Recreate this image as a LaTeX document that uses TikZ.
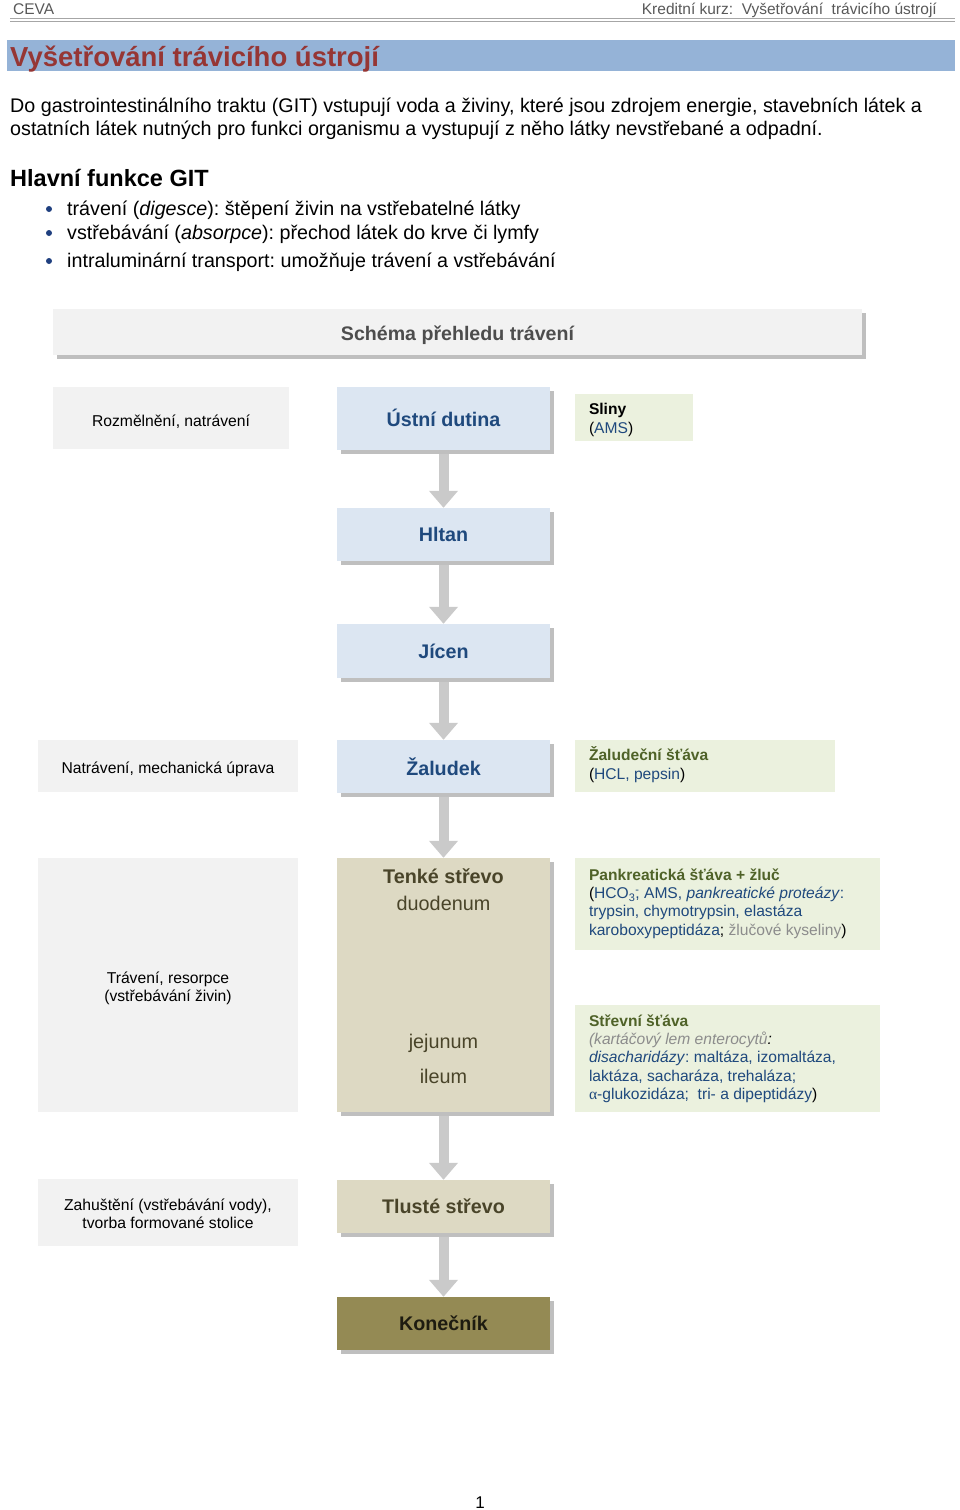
\documentclass[tikz,border=0pt]{standalone}
\usepackage{fontspec}
\setmainfont{Liberation Sans}
\newfontfamily\greekfont{Liberation Serif}
\usetikzlibrary{arrows.meta,shadows}
\newcommand\myfs[2]{\fontsize{#1}{#2}\selectfont}
\definecolor{headgray}{HTML}{595959}
\definecolor{headline}{HTML}{A6A6A6}
\definecolor{titleband}{HTML}{95B3D7}
\definecolor{titlered}{HTML}{963634}
\definecolor{bulletblue}{HTML}{1F3F7F}
\definecolor{boxgray}{HTML}{F2F2F2}
\definecolor{schemagray}{HTML}{4D4D4D}
\definecolor{bluebox}{HTML}{DCE6F2}
\definecolor{bluetext}{HTML}{1F497D}
\definecolor{greenbox}{HTML}{EBF1DE}
\definecolor{olivetext}{HTML}{4F6228}
\definecolor{tanbox}{HTML}{DDD9C3}
\definecolor{tantext}{HTML}{494429}
\definecolor{darkolive}{HTML}{948A54}
\definecolor{darktext}{HTML}{1D1B10}
\definecolor{arrowgray}{HTML}{CACACA}
\definecolor{shadowgray}{HTML}{BFBFBF}
\definecolor{lightgraytext}{HTML}{8C8C8C}
\begin{document}
\frenchspacing
\begin{tikzpicture}[x=1pt,y=-1pt,
  shad/.style={drop shadow={shadow xshift=4pt,shadow yshift=-4pt,fill=shadowgray,opacity=1}},
  leftbox/.style={fill=boxgray,inner sep=0},
  lefttext/.style={inner sep=0,align=center,font=\myfs{15.7}{18},text=black},
  midbox/.style={fill=bluebox,minimum width=213,minimum height=53,inner sep=0,font=\bfseries\myfs{19.7}{23},text=bluetext,shad},
  tanmid/.style={midbox,fill=tanbox,text=tantext},
  tantxt/.style={inner sep=0,font=\myfs{19.8}{23},text=tantext},
  rightbox/.style={fill=greenbox,inner sep=0},
  righttext/.style={inner sep=0,anchor=west,align=left,font=\myfs{15.6}{18.3},text=black},
  flow/.style={draw=arrowgray,line width=10pt,shorten <=4pt,-{Triangle[width=28pt,length=17pt]}},
  bodytext/.style={anchor=base west,inner sep=0,font=\myfs{19.7}{23},text=black},
  bul/.style={circle,fill=bulletblue,inner sep=0,minimum size=6}
]
\useasboundingbox[fill=white] (0,0) rectangle (960,1510);
% header
\node[anchor=base west,inner sep=0,font=\myfs{15.5}{18},text=headgray] (ceva) at (13,14) {CEVA};
\node[anchor=base east,inner sep=0,font=\myfs{15.5}{18},text=headgray] (kurz) at (937,14) {Kreditní kurz:\ \ Vyšetřování\ \ trávicího ústrojí};
\draw[headline,line width=1pt] (10,18.5) -- (955,18.5);
\draw[headline,line width=1pt] (10,21.5) -- (955,21.5);
% title band
\node[fill=titleband,minimum width=948,minimum height=31,inner sep=0,anchor=north west] (band) at (7,40) {};
\node[anchor=base west,inner sep=0,font=\bfseries\myfs{27.5}{30},text=titlered] (title) at (10,66) {Vyšetřování trávicího ústrojí};
% paragraph
\node[bodytext] (p1) at (10,112) {Do gastrointestinálního traktu (GIT) vstupují voda a živiny, které jsou zdrojem energie, stavebních látek a};
\node[bodytext] (p2) at (10,135) {ostatních látek nutných pro funkci organismu a vystupují z něho látky nevstřebané a odpadní.};
\node[anchor=base west,inner sep=0,font=\bfseries\myfs{23.5}{26}] (hlavni) at (10,186) {Hlavní funkce GIT};
\node[bul] (b1) at (49,209) {};
\node[bodytext] (t1) at (67,215) {trávení (\textit{digesce}): štěpení živin na vstřebatelné látky};
\node[bul] (b2) at (49,233) {};
\node[bodytext] (t2) at (67,239) {vstřebávání (\textit{absorpce}): přechod látek do krve či lymfy};
\node[bul] (b3) at (49,261) {};
\node[bodytext] (t3) at (67,267) {intraluminární transport: umožňuje trávení a vstřebávání};
% schema title
\node[fill=boxgray,minimum width=809,minimum height=46,inner sep=0,shad] (schema) at (457.5,332) {};
\node[inner sep=0,font=\bfseries\myfs{19.6}{22},text=schemagray] (schematxt) at ([yshift=-3pt]schema.center) {Schéma přehledu trávení};
% row 1
\node[leftbox,minimum width=236,minimum height=62] (rozm) at (171,418) {};
\node[lefttext] (rozmtxt) at ([yshift=-3.5pt]rozm.center) {Rozmělnění, natrávení};
\node[midbox,minimum height=63] (ustni) at (443.5,418.5) {};
\node[inner sep=0,font=\bfseries\myfs{19.7}{23},text=bluetext] (ustnitxt) at ([yshift=0.5pt]ustni.center) {Ústní dutina};
\node[rightbox,minimum width=118,minimum height=47] (sliny) at (634,417.5) {};
\node[righttext] (slinytxt) at ([xshift=14pt,yshift=-2.5pt]sliny.west) {\textbf{Sliny}\\(\textcolor{bluetext}{AMS})};
% chain
\node[midbox] (hltan) at (443.5,534.5) {Hltan};
\node[midbox,minimum height=54] (jicen) at (443.5,651) {Jícen};
\node[leftbox,minimum width=260,minimum height=52] (natr) at (168,766) {};
\node[lefttext] (natrtxt) at ([yshift=-3pt]natr.center) {Natrávení, mechanická úprava};
\node[midbox] (zaludek) at (443.5,766.5) {Žaludek};
\node[rightbox,minimum width=260,minimum height=52] (zst) at (705,766) {};
\node[righttext] (zsttxt) at ([xshift=14pt,yshift=1.5pt]zst.west) {\textcolor{olivetext}{\textbf{Žaludeční šťáva}}\\(\textcolor{bluetext}{HCL, pepsin})};
% small intestine
\node[leftbox,minimum width=260,minimum height=254] (trav) at (168,985) {};
\node[lefttext] (travtxt) at ([yshift=-3pt]trav.center) {Trávení, resorpce\\(vstřebávání živin)};
\node[tanmid,minimum height=254] (tenke) at (443.5,985) {};
\node[tantxt,font=\bfseries\myfs{19.8}{23}] (tenkel) at (443.5,876) {Tenké střevo};
\node[tantxt] (duod) at (443.5,903) {duodenum};
\node[tantxt] (jej) at (443.5,1043) {jejunum};
\node[tantxt] (ile) at (443.5,1076) {ileum};
\node[rightbox,minimum width=305,minimum height=92] (pank) at (727.5,904) {};
\node[righttext] (panktxt) at ([xshift=14pt,yshift=0.5pt]pank.west) {\textcolor{olivetext}{\textbf{Pankreatická šťáva + žluč}}\\
(\textcolor{bluetext}{HCO\textsubscript{3}\rlap{\textsuperscript{-}}, AMS, \textit{pankreatické proteázy}:}\\
\textcolor{bluetext}{trypsin, chymotrypsin, elastáza}\\
\textcolor{bluetext}{karoboxypeptidáza}; \textcolor{lightgraytext}{žlučové kyseliny})};
\node[rightbox,minimum width=305,minimum height=107] (strev) at (727.5,1058.5) {};
\node[righttext] (strevtxt) at ([xshift=14pt]strev.west) {\textcolor{olivetext}{\textbf{Střevní šťáva}}\\
\textit{\textcolor{lightgraytext}{(kartáčový lem enterocytů}:}\\
\textcolor{bluetext}{\textit{disacharidázy}: maltáza, izomaltáza,}\\
\textcolor{bluetext}{laktáza, sacharáza, trehaláza;}\\
\textcolor{bluetext}{{\greekfont α}-glukozidáza;\ \ tri- a dipeptidázy})};
% large intestine
\node[leftbox,minimum width=260,minimum height=67] (zahu) at (168,1212.5) {};
\node[lefttext] (zahutxt) at ([yshift=-1pt]zahu.center) {Zahuštění (vstřebávání vody),\\tvorba formované stolice};
\node[tanmid] (tluste) at (443.5,1206.5) {Tlusté střevo};
\node[tanmid,fill=darkolive,text=darktext] (konec) at (443.5,1323.5) {Konečník};
% arrows
\draw[flow] (ustni.south) -- (hltan.north);
\draw[flow] (hltan.south) -- (jicen.north);
\draw[flow] (jicen.south) -- (zaludek.north);
\draw[flow] (zaludek.south) -- (tenke.north);
\draw[flow] (tenke.south) -- (tluste.north);
\draw[flow] (tluste.south) -- (konec.north);
% page number
\node[anchor=base,inner sep=0,font=\myfs{17}{20}] (page) at (480,1508) {1};
\end{tikzpicture}
\end{document}
